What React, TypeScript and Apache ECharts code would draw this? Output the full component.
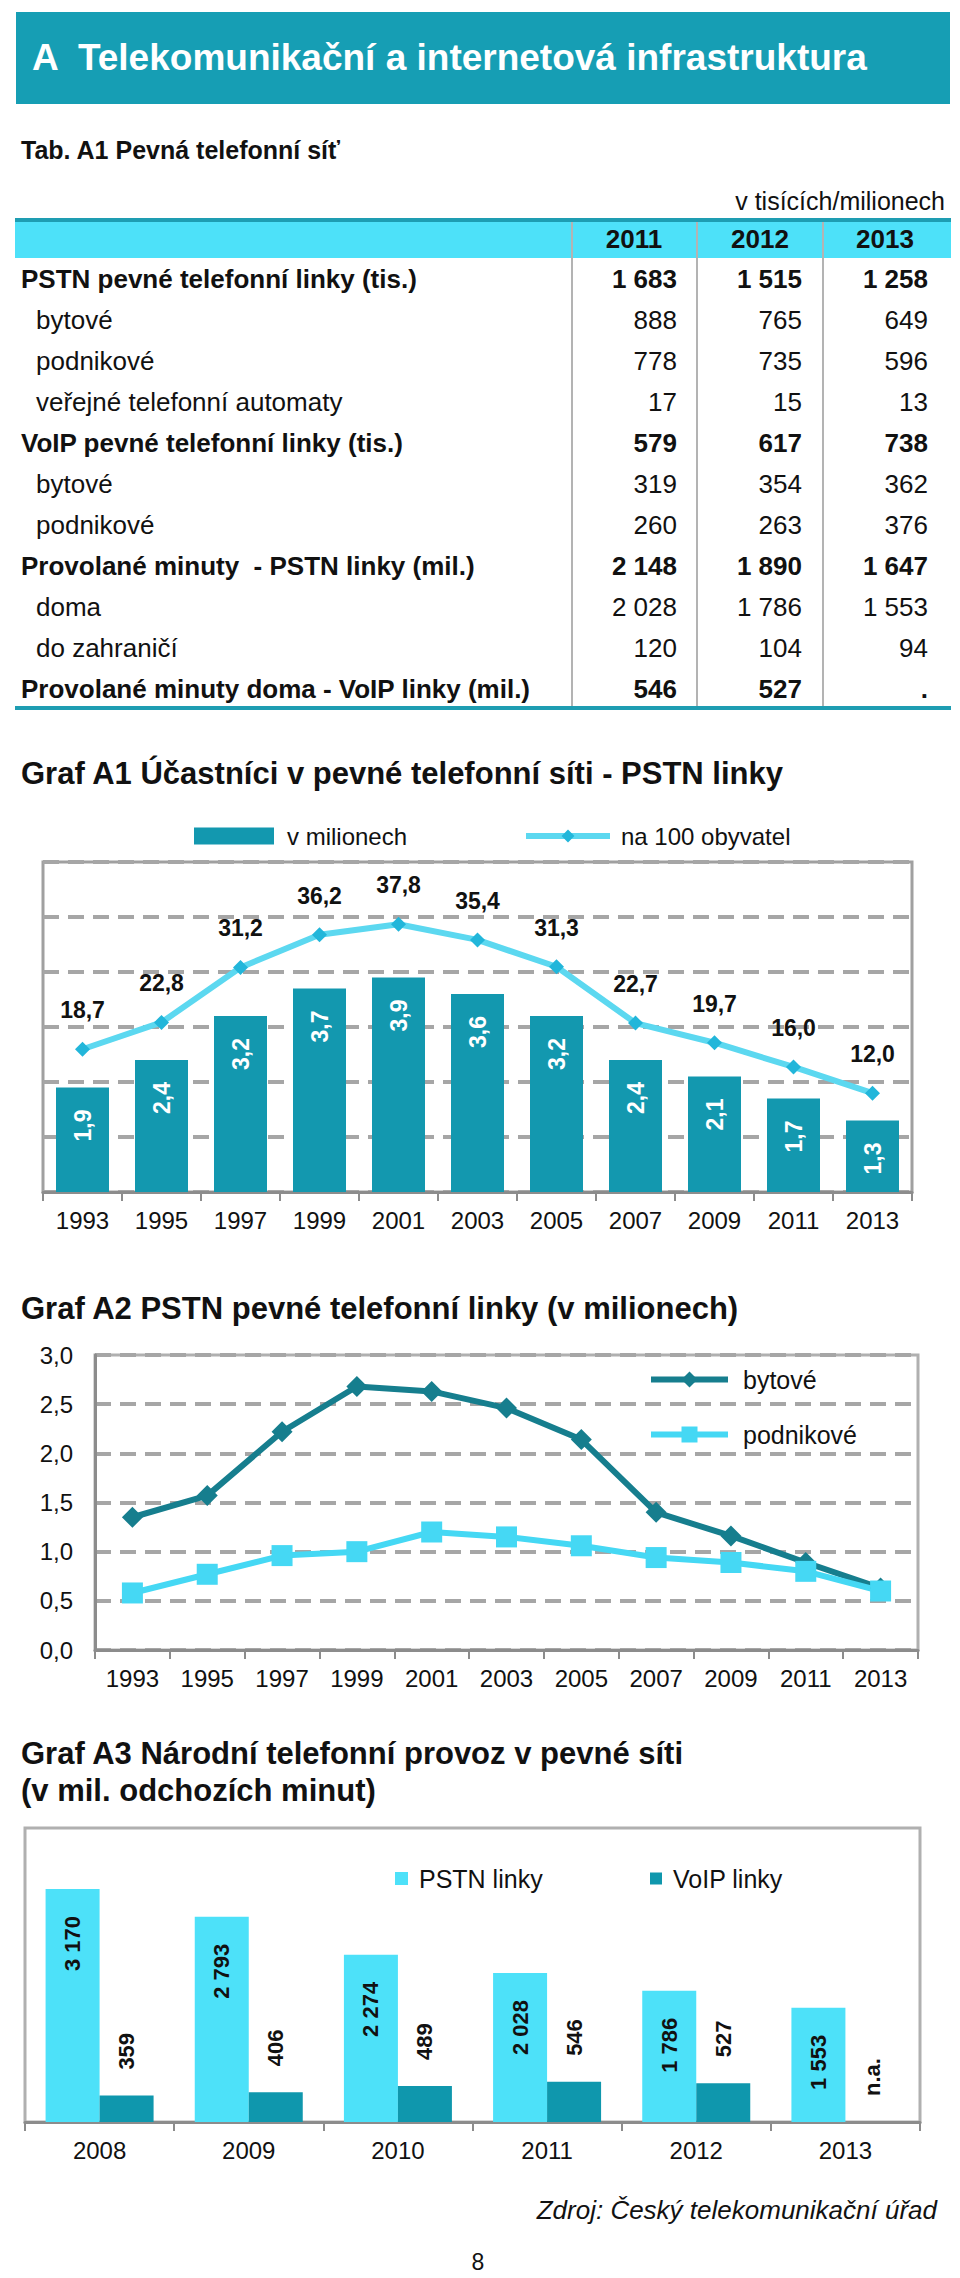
import React, { useEffect, useRef } from "react";
import * as echarts from "echarts";

const FONT = "'Liberation Sans', Arial, Helvetica, sans-serif";

// ---------- texts ----------
const pageTitle = "A  Telekomunikační a internetová infrastruktura";
const tableTitle = "Tab. A1 Pevná telefonní síť";
const tableUnit = "v tisících/milionech";
const sourceText = "Zdroj: Český telekomunikační úřad";
const pageNumber = "8";

// ---------- table ----------
const tableYears = ["2011", "2012", "2013"];
const tableRowLabels = [
  "PSTN pevné telefonní linky (tis.)",
  "bytové",
  "podnikové",
  "veřejné telefonní automaty",
  "VoIP pevné telefonní linky (tis.)",
  "bytové",
  "podnikové",
  "Provolané minuty  - PSTN linky (mil.)",
  "doma",
  "do zahraničí",
  "Provolané minuty doma - VoIP linky (mil.)",
];
const tableRowLevel = [0, 1, 1, 1, 0, 1, 1, 0, 1, 1, 0];
const table2011 = ["1 683", "888", "778", "17", "579", "319", "260", "2 148", "2 028", "120", "546"];
const table2012 = ["1 515", "765", "735", "15", "617", "354", "263", "1 890", "1 786", "104", "527"];
const table2013 = ["1 258", "649", "596", "13", "738", "362", "376", "1 647", "1 553", "94", "."];

// ---------- Graf A1 ----------
const a1Title = "Graf A1 Účastníci v pevné telefonní síti - PSTN linky";
const a1Years = ["1993", "1995", "1997", "1999", "2001", "2003", "2005", "2007", "2009", "2011", "2013"];
const a1Millions = [1.9, 2.4, 3.2, 3.7, 3.9, 3.6, 3.2, 2.4, 2.1, 1.7, 1.3];
const a1Per100 = [18.7, 22.8, 31.2, 36.2, 37.8, 35.4, 31.3, 22.7, 19.7, 16.0, 12.0];

// ---------- Graf A2 ----------
const a2Title = "Graf A2 PSTN pevné telefonní linky (v milionech)";
const a2Years = ["1993", "1995", "1997", "1999", "2001", "2003", "2005", "2007", "2009", "2011", "2013"];
const a2Bytove = [1.35, 1.57, 2.22, 2.68, 2.63, 2.46, 2.14, 1.4, 1.16, 0.89, 0.63];
const a2Podnikove = [0.58, 0.77, 0.96, 1.0, 1.2, 1.15, 1.06, 0.94, 0.89, 0.8, 0.6];

// ---------- Graf A3 ----------
const a3Title1 = "Graf A3 Národní telefonní provoz v pevné síti";
const a3Title2 = "(v mil. odchozích minut)";
const a3Years = ["2008", "2009", "2010", "2011", "2012", "2013"];
const a3Pstn = [3170, 2793, 2274, 2028, 1786, 1553];
const a3Voip: (number | null)[] = [359, 406, 489, 546, 527, null];

const comma1 = (v: number) => v.toFixed(1).replace(".", ",");
const thousands = (n: number) =>
  n >= 1000 ? Math.floor(n / 1000) + " " + String(n % 1000).padStart(3, "0") : String(n);

function txt(x: number, y: number, text: string, size: number, opts: any = {}) {
  return {
    type: "text",
    x,
    y,
    silent: true,
    style: {
      text,
      fill: opts.fill || "#111",
      fontSize: size,
      fontWeight: opts.bold ? "bold" : "normal",
      fontStyle: opts.italic ? "italic" : "normal",
      fontFamily: FONT,
      textAlign: opts.align || "left",
      textVerticalAlign: "middle",
      align: opts.align || "left",
      verticalAlign: "middle",
    },
  };
}

function buildGraphics() {
  const g: any[] = [];
  // page header band
  g.push({ type: "rect", shape: { x: 16, y: 12, width: 934, height: 92 }, style: { fill: "#169EB4" } });
  g.push(txt(32, 57, pageTitle, 37, { bold: true, fill: "#ffffff" }));
  // table
  g.push(txt(21, 150, tableTitle, 25, { bold: true }));
  g.push(txt(945, 201, tableUnit, 25, { align: "right" }));
  g.push({ type: "rect", shape: { x: 15, y: 219, width: 936, height: 39 }, style: { fill: "#4DE1F9" } });
  g.push({ type: "rect", shape: { x: 15, y: 218, width: 936, height: 4 }, style: { fill: "#1E9DB2" } });
  g.push({ type: "rect", shape: { x: 15, y: 706, width: 936, height: 4 }, style: { fill: "#1E9DB2" } });
  const divX = [572, 697, 823];
  divX.forEach((x) =>
    g.push({ type: "line", shape: { x1: x, y1: 222, x2: x, y2: 706 }, style: { stroke: "#b3b3b3", lineWidth: 2 } })
  );
  const colRight = [677, 802, 928];
  const colCenter = [634, 760, 885];
  tableYears.forEach((y, i) => g.push(txt(colCenter[i], 239, y, 26, { bold: true, align: "center" })));
  const cols = [table2011, table2012, table2013];
  tableRowLabels.forEach((label, r) => {
    const y = 279 + r * 41;
    const bold = tableRowLevel[r] === 0;
    g.push(txt(bold ? 21 : 36, y, label, 26, { bold }));
    cols.forEach((col, c) => g.push(txt(colRight[c], y, col[r], 26, { bold, align: "right" })));
  });
  // chart titles
  g.push(txt(21, 773, a1Title, 31, { bold: true }));
  g.push(txt(21, 1308, a2Title, 31, { bold: true }));
  g.push(txt(21, 1753, a3Title1, 31, { bold: true }));
  g.push(txt(21, 1790, a3Title2, 31, { bold: true }));
  // footer
  g.push(txt(937, 2210, sourceText, 26, { italic: true, align: "right" }));
  g.push(txt(478, 2262, pageNumber, 23, { align: "center" }));
  return g;
}

const dashed = { lineStyle: { type: [16, 9], color: "#a6a6a6", width: 4 } };
const axisColor = "#8c8c8c";

function buildOption(): any {
  const catAxis = (gridIndex: number, data: string[]) => ({
    gridIndex,
    type: "category",
    data,
    axisLine: { lineStyle: { color: axisColor, width: 3 } },
    axisTick: { show: true, length: 9, lineStyle: { color: axisColor, width: 2 } },
    axisLabel: { fontSize: 24, color: "#111", margin: 16, fontFamily: FONT },
    splitLine: { show: false },
  });
  const barLabel = {
    show: true,
    rotate: 90,
    verticalAlign: "middle",
    fontFamily: FONT,
    fontWeight: "bold",
    fontSize: 23,
  };
  return {
    animation: false,
    textStyle: { fontFamily: FONT },
    graphic: buildGraphics(),
    grid: [
      { left: 43, top: 862, width: 869, height: 330, show: true, borderColor: "#a0a0a0", borderWidth: 3 },
      { left: 95, top: 1355, width: 823, height: 295, show: true, borderColor: "#b0b0b0", borderWidth: 3 },
      { left: 25, top: 1828, width: 895, height: 294, show: true, borderColor: "#b0b0b0", borderWidth: 3 },
    ],
    legend: [
      {
        data: ["v milionech"],
        left: 189,
        top: 819,
        icon: "rect",
        itemWidth: 80,
        itemHeight: 17,
        textStyle: { fontSize: 24, color: "#111", padding: [0, 0, 0, 8] },
      },
      {
        data: ["na 100 obyvatel"],
        left: 518,
        top: 819,
        itemWidth: 84,
        itemHeight: 16,
        lineStyle: { width: 6 },
        textStyle: { fontSize: 24, color: "#111", padding: [0, 0, 0, 6] },
      },
      {
        data: ["bytové", "podnikové"],
        orient: "vertical",
        left: 643,
        top: 1362,
        itemWidth: 77,
        itemHeight: 20,
        itemGap: 30,
        lineStyle: { width: 6 },
        textStyle: { fontSize: 25, color: "#111", padding: [0, 0, 0, 10] },
      },
      {
        data: ["PSTN linky"],
        left: 390,
        top: 1861,
        icon: "rect",
        itemWidth: 13,
        itemHeight: 13,
        textStyle: { fontSize: 25, color: "#111", padding: [0, 0, 0, 6] },
      },
      {
        data: ["VoIP linky"],
        left: 645,
        top: 1861,
        icon: "rect",
        itemWidth: 12,
        itemHeight: 12,
        textStyle: { fontSize: 25, color: "#111", padding: [0, 0, 0, 6] },
      },
    ],
    xAxis: [catAxis(0, a1Years), catAxis(1, a2Years), catAxis(2, a3Years)],
    yAxis: [
      {
        gridIndex: 0,
        type: "value",
        min: 0,
        max: 6,
        interval: 1,
        axisLabel: { show: false },
        axisLine: { show: false },
        axisTick: { show: false },
        splitLine: dashed,
      },
      { gridIndex: 0, type: "value", min: -3.1, max: 47.3, show: false },
      {
        gridIndex: 1,
        type: "value",
        min: 0,
        max: 3,
        interval: 0.5,
        axisLine: { show: true, lineStyle: { color: axisColor, width: 3 } },
        axisTick: { show: false },
        axisLabel: { formatter: (v: number) => comma1(v), fontSize: 24, color: "#111", margin: 22 },
        splitLine: dashed,
      },
      { gridIndex: 2, type: "value", min: 0, max: 4000, show: false },
    ],
    series: [
      {
        name: "v milionech",
        type: "bar",
        xAxisIndex: 0,
        yAxisIndex: 0,
        data: a1Millions,
        barWidth: 53,
        itemStyle: { color: "#1398AF" },
        label: {
          ...barLabel,
          position: "insideTop",
          align: "right",
          distance: 22,
          color: "#ffffff",
          formatter: (p: any) => comma1(p.value),
        },
      },
      {
        name: "na 100 obyvatel",
        type: "line",
        xAxisIndex: 0,
        yAxisIndex: 1,
        data: a1Per100,
        symbol: "diamond",
        symbolSize: 15,
        lineStyle: { color: "#5CD8F0", width: 6 },
        itemStyle: { color: "#22B6DA" },
        label: {
          show: true,
          position: "top",
          distance: 20,
          color: "#111",
          fontWeight: "bold",
          fontSize: 23,
          formatter: (p: any) => comma1(p.value),
        },
      },
      {
        name: "bytové",
        type: "line",
        xAxisIndex: 1,
        yAxisIndex: 2,
        data: a2Bytove,
        symbol: "diamond",
        symbolSize: 21,
        lineStyle: { color: "#167E8E", width: 6 },
        itemStyle: { color: "#167E8E" },
      },
      {
        name: "podnikové",
        type: "line",
        xAxisIndex: 1,
        yAxisIndex: 2,
        data: a2Podnikove,
        symbol: "rect",
        symbolSize: 21,
        lineStyle: { color: "#45D8F4", width: 6 },
        itemStyle: { color: "#45D8F4" },
      },
      {
        name: "PSTN linky",
        type: "bar",
        xAxisIndex: 2,
        yAxisIndex: 3,
        data: a3Pstn,
        barWidth: 54,
        barGap: "0%",
        itemStyle: { color: "#4DE1F9" },
        label: {
          ...barLabel,
          fontSize: 22,
          position: "insideTop",
          align: "right",
          distance: 27,
          color: "#111",
          formatter: (p: any) => thousands(p.value),
        },
      },
      {
        name: "VoIP linky",
        type: "bar",
        xAxisIndex: 2,
        yAxisIndex: 3,
        data: a3Voip.map((v) =>
          v === null ? { value: 0, label: { formatter: "n.a." } } : v
        ),
        barWidth: 54,
        barGap: "0%",
        itemStyle: { color: "#0F97AD" },
        label: {
          ...barLabel,
          fontSize: 22,
          position: "top",
          align: "left",
          distance: 26,
          color: "#111",
          formatter: (p: any) => thousands(p.value),
        },
      },
    ],
  };
}

export default function App() {
  const ref = useRef<HTMLDivElement>(null);
  useEffect(() => {
    document.body.style.margin = "0";
    if (!ref.current) return;
    const chart = echarts.init(ref.current, undefined, { renderer: "svg" });
    chart.setOption(buildOption());
    return () => chart.dispose();
  }, []);
  return <div ref={ref} style={{ width: 960, height: 2278, background: "#fff" }} />;
}
